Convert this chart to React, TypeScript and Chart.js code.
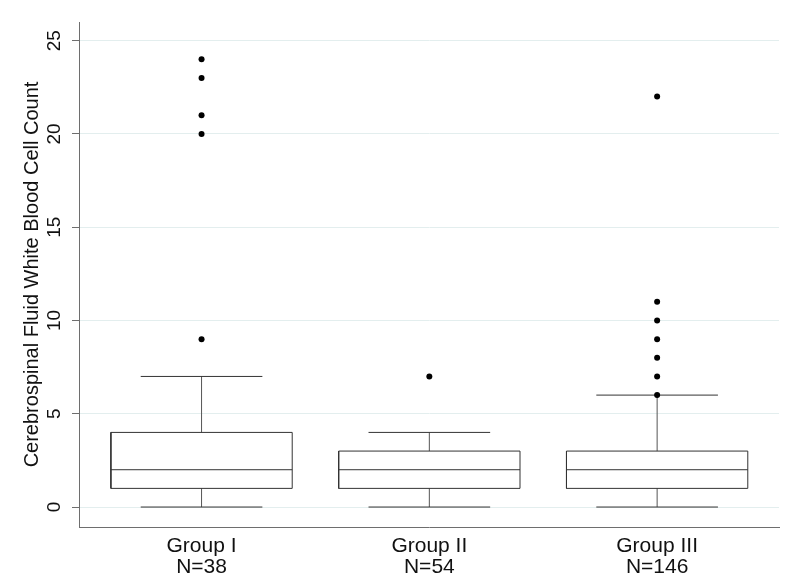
import React, { useEffect, useRef } from "react";
import { Chart, registerables } from "chart.js";

Chart.register(...registerables);

const categories = ["Group I", "Group II", "Group III"];
const counts = [38, 54, 146];
const whiskerLow = [0, 0, 0];
const q1 = [1, 1, 1];
const median = [2, 2, 2];
const q3 = [4, 3, 3];
const whiskerHigh = [7, 4, 6];
const outliers = [
  [9, 20, 21, 23, 24],
  [7],
  [6, 7, 8, 9, 10, 11, 22],
];
const yTicks = [0, 5, 10, 15, 20, 25];
const yTitle = "Cerebrospinal Fluid White Blood Cell Count";

const BOX_HALF = 0.398;
const CAP_HALF = 0.267;
const FONT = "'Liberation Sans', Arial, sans-serif";

type P = { x: number; y: number | null };

function buildBoxes(): P[] {
  const pts: P[] = [];
  categories.forEach((_, i) => {
    pts.push(
      { x: i - BOX_HALF, y: q1[i] },
      { x: i + BOX_HALF, y: q1[i] },
      { x: i + BOX_HALF, y: q3[i] },
      { x: i - BOX_HALF, y: q3[i] },
      { x: i - BOX_HALF, y: q1[i] },
      { x: i, y: null }
    );
  });
  return pts;
}
function buildMedians(): P[] {
  const pts: P[] = [];
  categories.forEach((_, i) => {
    pts.push({ x: i - BOX_HALF, y: median[i] }, { x: i + BOX_HALF, y: median[i] }, { x: i, y: null });
  });
  return pts;
}
function buildWhiskers(): P[] {
  const pts: P[] = [];
  categories.forEach((_, i) => {
    pts.push({ x: i, y: q3[i] }, { x: i, y: whiskerHigh[i] }, { x: i + 0.01, y: null });
    pts.push({ x: i, y: whiskerLow[i] }, { x: i, y: q1[i] }, { x: i + 0.01, y: null });
  });
  return pts;
}
function buildCaps(): P[] {
  const pts: P[] = [];
  categories.forEach((_, i) => {
    pts.push({ x: i - CAP_HALF, y: whiskerHigh[i] }, { x: i + CAP_HALF, y: whiskerHigh[i] }, { x: i, y: null });
    pts.push({ x: i - CAP_HALF, y: whiskerLow[i] }, { x: i + CAP_HALF, y: whiskerLow[i] }, { x: i, y: null });
  });
  return pts;
}
function buildOutliers(): P[] {
  const pts: P[] = [];
  outliers.forEach((arr, i) => arr.forEach((v) => pts.push({ x: i, y: v })));
  return pts;
}

export default function App() {
  const ref = useRef<HTMLCanvasElement | null>(null);
  useEffect(() => {
    document.body.style.margin = "0";
    if (!ref.current) return;
    const lineDs = (data: P[], color: string, order: number) => ({
      type: "scatter" as const,
      data,
      showLine: true,
      spanGaps: false,
      borderColor: color,
      borderWidth: 1,
      pointRadius: 0,
      pointHoverRadius: 0,
      fill: false,
      order,
    });
    const chart = new Chart(ref.current, {
      type: "scatter",
      data: {
        datasets: [
          lineDs(buildWhiskers(), "#555555", 4),
          lineDs(buildCaps(), "#333333", 3),
          lineDs(buildBoxes(), "#333333", 2),
          lineDs(buildMedians(), "#333333", 1),
          {
            type: "scatter",
            data: buildOutliers(),
            pointRadius: 3,
            pointBackgroundColor: "#000000",
            pointBorderWidth: 0,
            borderColor: "#000000",
            showLine: false,
            order: 0,
          },
        ] as any,
      },
      options: {
        animation: false,
        responsive: true,
        maintainAspectRatio: false,
        layout: { padding: { left: 0, right: 21, top: 22, bottom: 0 } },
        plugins: {
          legend: { display: false },
          tooltip: { enabled: false },
        },
        scales: {
          x: {
            type: "linear",
            position: "bottom",
            min: -0.538,
            max: 2.535,
            grid: { display: false, drawTicks: false },
            border: { display: true, color: "#6e6e6e", width: 1 },
            afterBuildTicks: (scale: any) => {
              scale.ticks = categories.map((_, i) => ({ value: i }));
            },
            afterFit: (scale: any) => {
              scale.height = 55;
            },
            ticks: {
              autoSkip: false,
              maxRotation: 0,
              minRotation: 0,
              padding: 9,
              color: "#111111",
              font: { family: FONT, size: 21, lineHeight: 1.0 },
              callback: (v: any) => {
                const i = Math.round(Number(v));
                return [categories[i], "N=" + counts[i]];
              },
            },
          },
          y: {
            type: "linear",
            position: "left",
            min: -1.07,
            max: 26,
            afterBuildTicks: (scale: any) => {
              scale.ticks = yTicks.map((v) => ({ value: v }));
            },
            afterFit: (scale: any) => {
              scale.width = 79;
            },
            grid: {
              color: "#e3eeee",
              lineWidth: 1,
              drawTicks: true,
              tickLength: 7,
              tickColor: "#6e6e6e",
            },
            border: { display: true, color: "#6e6e6e", width: 1 },
            title: {
              display: true,
              text: yTitle,
              color: "#111111",
              font: { family: FONT, size: 20, lineHeight: 1.2 },
              padding: { top: 20, bottom: 0 },
            },
            ticks: {
              minRotation: 90,
              maxRotation: 90,
              crossAlign: "center",
              padding: 7,
              color: "#111111",
              font: { family: FONT, size: 19 },
              callback: (v: any) => String(v),
            },
          },
        },
      } as any,
    });
    return () => chart.destroy();
  }, []);
  return (
    <div style={{ width: 800, height: 582, position: "relative", background: "#ffffff" }}>
      <canvas ref={ref} />
    </div>
  );
}
